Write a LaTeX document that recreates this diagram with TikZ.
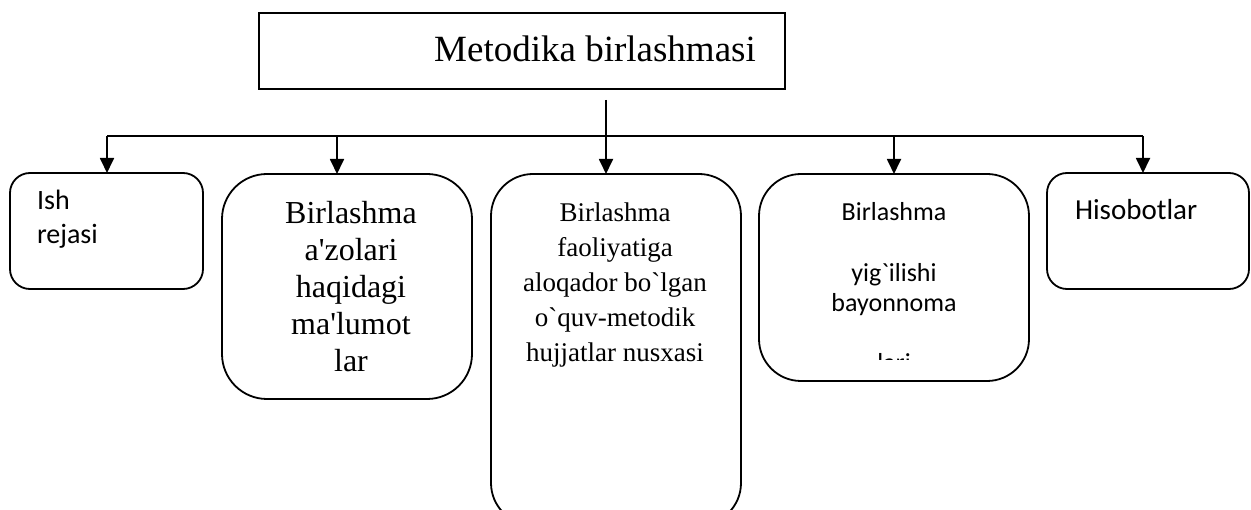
\documentclass[tikz,border=0pt]{standalone}
\usepackage{fontspec}
\newfontfamily\tmsfont{Liberation Serif}
\newfontfamily\calfont{Carlito}
\usetikzlibrary{arrows.meta}
\tikzset{
  box/.style={draw=black, line width=1.8pt, rectangle, inner sep=0pt, outer sep=0pt},
  arr/.style={line width=1.8pt, -{Triangle[length=15pt,width=14pt]}},
  bus/.style={line width=1.8pt},
  txt/.style={inner sep=0pt, outer sep=0pt, text=black}
}
\begin{document}
\begin{tikzpicture}[x=1pt,y=1pt]
\useasboundingbox (0,0) rectangle (1251,-510);
\clip (0,0) rectangle (1251,-510);
% top box
\node[box, line width=1.5pt, minimum width=526pt, minimum height=76pt] (top) at (522,-51) {};
\node[txt, anchor=base, font=\tmsfont\fontsize{37}{42}\selectfont] (title) at (595,-62) {Metodika birlashmasi};
% child boxes
\node[box, rounded corners=20pt, minimum width=193pt, minimum height=116pt] (b1) at (106.5,-231) {};
\node[box, rounded corners=45pt, minimum width=250pt, minimum height=225pt] (b2) at (347,-286.5) {};
\node[box, rounded corners=42pt, minimum width=250pt, minimum height=351pt] (b3) at (616,-349.5) {};
\node[box, rounded corners=42pt, minimum width=270pt, minimum height=207pt] (b4) at (894,-277.5) {};
\node[box, rounded corners=20pt, minimum width=202pt, minimum height=116pt] (b5) at (1148,-231) {};
% texts (base anchor = baseline of last line)
\node[txt, anchor=base west, align=left, font=\calfont\fontsize{28}{34}\selectfont] (t1) at (37,-244) {Ish\\rejasi};
\node[txt, anchor=base, align=center, font=\tmsfont\fontsize{32}{37}\selectfont] (t2) at (351,-372) {Birlashma\\a'zolari\\haqidagi\\ma'lumot\\lar};
\node[txt, anchor=base, align=center, font=\tmsfont\fontsize{27}{35}\selectfont] (t3) at (615,-362) {Birlashma\\faoliyatiga\\aloqador bo`lgan\\o`quv-metodik\\hujjatlar nusxasi};
\begin{scope}
\clip (740,-150) rectangle (1040,-360);
\node[txt, anchor=base, align=center, font=\calfont\fontsize{26}{30.2}\selectfont] (t4) at (894,-372) {Birlashma\\\mbox{}\\yig`ilishi\\bayonnoma\\\mbox{}\\lari};
\end{scope}
\node[txt, anchor=base west, font=\calfont\fontsize{29}{34}\selectfont] (t5) at (1075,-220) {Hisobotlar};
% connectors
\coordinate (src) at (606,-100);
\coordinate (busL) at (107,-136);
\coordinate (busR) at (1143,-136);
\coordinate (c2) at (337,-136);
\coordinate (c4) at (894,-136);
\draw[bus] (busL) -- (busR);
\draw[arr] (src) -- (src |- b3.north);
\draw[arr] (busL) -- (busL |- b1.north);
\draw[arr] (c2) -- (c2 |- b2.north);
\draw[arr] (c4) -- (c4 |- b4.north);
\draw[arr] (busR) -- (busR |- b5.north);
\end{tikzpicture}
\end{document}
